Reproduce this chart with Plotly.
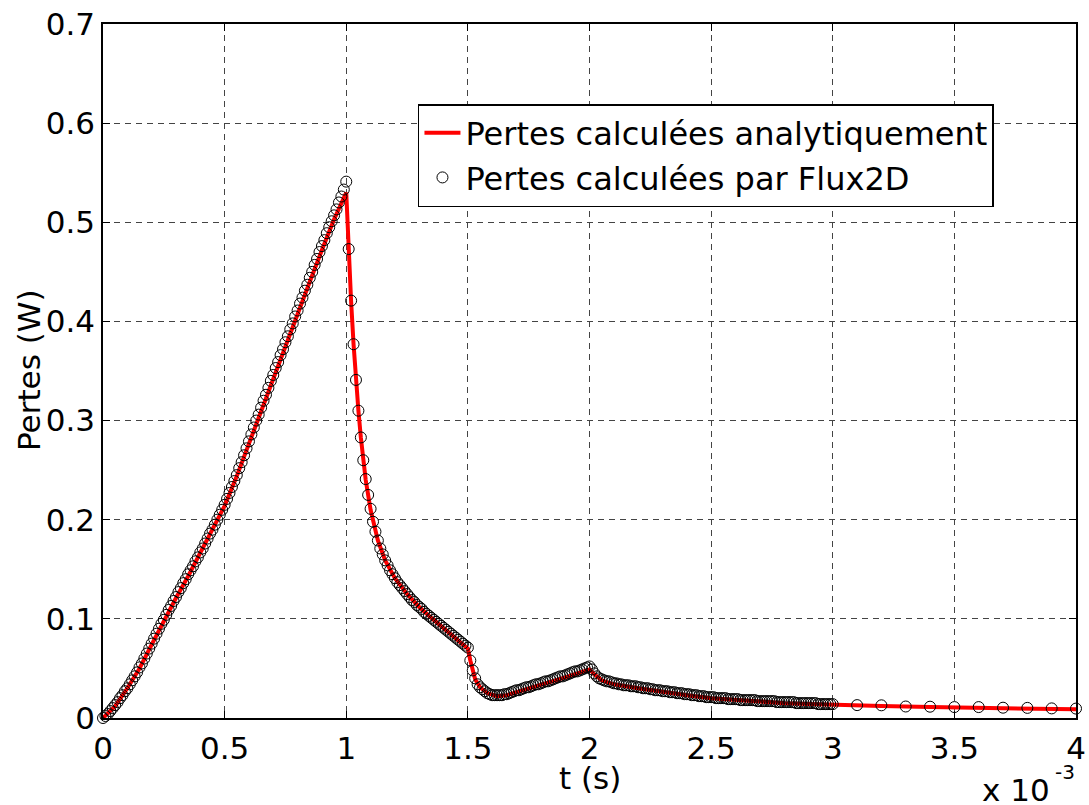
import plotly.graph_objects as go

# ---- Flux2D markers (t in ms, P in W) ----
flux_t = [
    0.00, 0.01, 0.02, 0.03, 0.04, 0.05, 0.06, 0.07, 0.08, 0.09,
    0.10, 0.11, 0.12, 0.13, 0.14, 0.15, 0.16, 0.17, 0.18, 0.19,
    0.20, 0.21, 0.22, 0.23, 0.24, 0.25, 0.26, 0.27, 0.28, 0.29,
    0.30, 0.31, 0.32, 0.33, 0.34, 0.35, 0.36, 0.37, 0.38, 0.39,
    0.40, 0.41, 0.42, 0.43, 0.44, 0.45, 0.46, 0.47, 0.48, 0.49,
    0.50, 0.51, 0.52, 0.53, 0.54, 0.55, 0.56, 0.57, 0.58, 0.59,
    0.60, 0.61, 0.62, 0.63, 0.64, 0.65, 0.66, 0.67, 0.68, 0.69,
    0.70, 0.71, 0.72, 0.73, 0.74, 0.75, 0.76, 0.77, 0.78, 0.79,
    0.80, 0.81, 0.82, 0.83, 0.84, 0.85, 0.86, 0.87, 0.88, 0.89,
    0.90, 0.91, 0.92, 0.93, 0.94, 0.95, 0.96, 0.97, 0.98, 0.99,
    1.00, 1.01, 1.02, 1.03, 1.04, 1.05, 1.06, 1.07, 1.08, 1.09,
    1.10, 1.11, 1.12, 1.13, 1.14, 1.15, 1.16, 1.17, 1.18, 1.19,
    1.20, 1.21, 1.22, 1.23, 1.24, 1.25, 1.26, 1.27, 1.28, 1.29,
    1.30, 1.31, 1.32, 1.33, 1.34, 1.35, 1.36, 1.37, 1.38, 1.39,
    1.40, 1.41, 1.42, 1.43, 1.44, 1.45, 1.46, 1.47, 1.48, 1.49,
    1.50, 1.51, 1.52, 1.53, 1.54, 1.55, 1.56, 1.57, 1.58, 1.59,
    1.60, 1.61, 1.62, 1.63, 1.64, 1.65, 1.66, 1.67, 1.68, 1.69,
    1.70, 1.71, 1.72, 1.73, 1.74, 1.75, 1.76, 1.77, 1.78, 1.79,
    1.80, 1.81, 1.82, 1.83, 1.84, 1.85, 1.86, 1.87, 1.88, 1.89,
    1.90, 1.91, 1.92, 1.93, 1.94, 1.95, 1.96, 1.97, 1.98, 1.99,
    2.00, 2.01, 2.02, 2.03, 2.04, 2.05, 2.06, 2.07, 2.08, 2.09,
    2.10, 2.11, 2.12, 2.13, 2.14, 2.15, 2.16, 2.17, 2.18, 2.19,
    2.20, 2.21, 2.22, 2.23, 2.24, 2.25, 2.26, 2.27, 2.28, 2.29,
    2.30, 2.31, 2.32, 2.33, 2.34, 2.35, 2.36, 2.37, 2.38, 2.39,
    2.40, 2.41, 2.42, 2.43, 2.44, 2.45, 2.46, 2.47, 2.48, 2.49,
    2.50, 2.51, 2.52, 2.53, 2.54, 2.55, 2.56, 2.57, 2.58, 2.59,
    2.60, 2.61, 2.62, 2.63, 2.64, 2.65, 2.66, 2.67, 2.68, 2.69,
    2.70, 2.71, 2.72, 2.73, 2.74, 2.75, 2.76, 2.77, 2.78, 2.79,
    2.80, 2.81, 2.82, 2.83, 2.84, 2.85, 2.86, 2.87, 2.88, 2.89,
    2.90, 2.91, 2.92, 2.93, 2.94, 2.95, 2.96, 2.97, 2.98, 2.99,
    3.00, 3.10, 3.20, 3.30, 3.40, 3.50, 3.60, 3.70, 3.80, 3.90,
    4.00,
]
flux_p = [
    0.000, 0.002, 0.004, 0.007, 0.010, 0.013, 0.016, 0.020, 0.023, 0.027,
    0.030, 0.034, 0.038, 0.042, 0.046, 0.051, 0.055, 0.060, 0.065, 0.070,
    0.075, 0.080, 0.085, 0.090, 0.095, 0.099, 0.104, 0.109, 0.113, 0.118,
    0.122, 0.127, 0.131, 0.136, 0.140, 0.145, 0.149, 0.153, 0.158, 0.162,
    0.167, 0.171, 0.176, 0.181, 0.186, 0.190, 0.195, 0.200, 0.205, 0.210,
    0.215, 0.221, 0.227, 0.233, 0.239, 0.245, 0.252, 0.258, 0.265, 0.272,
    0.279, 0.286, 0.293, 0.300, 0.306, 0.313, 0.320, 0.326, 0.333, 0.340,
    0.346, 0.353, 0.359, 0.366, 0.372, 0.379, 0.385, 0.392, 0.398, 0.405,
    0.411, 0.418, 0.424, 0.431, 0.437, 0.444, 0.450, 0.457, 0.463, 0.470,
    0.476, 0.482, 0.489, 0.495, 0.501, 0.507, 0.513, 0.520, 0.526, 0.533,
    0.541, 0.473, 0.421, 0.377, 0.341, 0.310, 0.283, 0.260, 0.241, 0.225,
    0.211, 0.198, 0.188, 0.179, 0.171, 0.165, 0.159, 0.154, 0.149, 0.145,
    0.141, 0.137, 0.134, 0.131, 0.128, 0.125, 0.122, 0.119, 0.117, 0.114,
    0.112, 0.110, 0.107, 0.105, 0.103, 0.101, 0.099, 0.097, 0.095, 0.093,
    0.091, 0.089, 0.087, 0.085, 0.083, 0.081, 0.079, 0.077, 0.075, 0.073,
    0.071, 0.058, 0.048, 0.040, 0.034, 0.031, 0.029, 0.027, 0.025, 0.024,
    0.023, 0.023, 0.023, 0.023, 0.023, 0.024, 0.024, 0.025, 0.026, 0.027,
    0.028, 0.028, 0.029, 0.030, 0.031, 0.031, 0.032, 0.033, 0.034, 0.034,
    0.035, 0.036, 0.037, 0.037, 0.038, 0.039, 0.040, 0.041, 0.042, 0.042,
    0.043, 0.044, 0.045, 0.046, 0.047, 0.047, 0.048, 0.049, 0.050, 0.051,
    0.052, 0.049, 0.045, 0.042, 0.040, 0.039, 0.038, 0.037, 0.037, 0.036,
    0.035, 0.035, 0.034, 0.034, 0.033, 0.033, 0.033, 0.032, 0.032, 0.032,
    0.031, 0.031, 0.030, 0.030, 0.030, 0.029, 0.029, 0.028, 0.028, 0.028,
    0.027, 0.027, 0.027, 0.026, 0.026, 0.026, 0.025, 0.025, 0.025, 0.024,
    0.024, 0.024, 0.023, 0.023, 0.023, 0.022, 0.022, 0.022, 0.021, 0.021,
    0.021, 0.021, 0.020, 0.020, 0.020, 0.020, 0.020, 0.019, 0.019, 0.019,
    0.019, 0.019, 0.018, 0.018, 0.018, 0.018, 0.018, 0.018, 0.018, 0.017,
    0.017, 0.017, 0.017, 0.017, 0.017, 0.017, 0.017, 0.016, 0.016, 0.016,
    0.016, 0.016, 0.016, 0.016, 0.016, 0.015, 0.015, 0.015, 0.015, 0.015,
    0.015, 0.015, 0.015, 0.015, 0.014, 0.014, 0.014, 0.014, 0.014, 0.014,
    0.014, 0.013, 0.0128, 0.0116, 0.0114, 0.011, 0.011, 0.0104, 0.0102, 0.0097,
    0.0095,
]

# ---- Analytical curve (t in ms, P in W) ----
ana_t = [
    0.00, 0.05, 0.10, 0.15, 0.20, 0.25, 0.30, 0.35, 0.40, 0.45,
    0.50, 0.55, 0.60, 0.65, 0.70, 0.75, 0.80, 0.85, 0.90, 0.95,
    1.00, 1.01, 1.02, 1.03, 1.04, 1.05, 1.06, 1.08, 1.10, 1.13,
    1.16, 1.20, 1.25, 1.30, 1.35, 1.40, 1.45, 1.50, 1.51, 1.52,
    1.53, 1.55, 1.58, 1.62, 1.66, 1.70, 1.80, 1.90, 2.00, 2.02,
    2.05, 2.10, 2.20, 2.30, 2.40, 2.50, 2.60, 2.70, 2.80, 2.90,
    3.00, 3.20, 3.40, 3.60, 3.80, 4.00,
]
ana_p = [
    0.000, 0.012, 0.030, 0.050, 0.074, 0.098, 0.121, 0.143, 0.166, 0.189,
    0.214, 0.244, 0.277, 0.310, 0.343, 0.376, 0.408, 0.440, 0.472, 0.503,
    0.530, 0.470, 0.420, 0.377, 0.340, 0.310, 0.283, 0.240, 0.210, 0.179,
    0.159, 0.141, 0.125, 0.112, 0.101, 0.091, 0.081, 0.070, 0.058, 0.047,
    0.039, 0.031, 0.025, 0.022, 0.023, 0.026, 0.033, 0.041, 0.049, 0.044,
    0.038, 0.034, 0.030, 0.026, 0.023, 0.020, 0.018, 0.0165, 0.015, 0.014,
    0.013, 0.012, 0.011, 0.010, 0.0093, 0.0088,
]

x_ticks = [0, 0.5, 1, 1.5, 2, 2.5, 3, 3.5, 4]
x_tick_text = ["0", "0.5", "1", "1.5", "2", "2.5", "3", "3.5", "4"]
y_ticks = [0, 0.1, 0.2, 0.3, 0.4, 0.5, 0.6, 0.7]
y_tick_text = ["0", "0.1", "0.2", "0.3", "0.4", "0.5", "0.6", "0.7"]

FONT = "DejaVu Sans"
FS = 31

fig = go.Figure()
fig.add_trace(go.Scatter(
    x=ana_t, y=ana_p, mode="lines",
    name="Pertes calculées analytiquement",
    line=dict(color="#ff0000", width=4),
    cliponaxis=False,
))
fig.add_trace(go.Scatter(
    x=flux_t, y=flux_p, mode="markers",
    name="Pertes calculées par Flux2D",
    marker=dict(symbol="circle-open", size=11, color="black",
                line=dict(color="black", width=1)),
    cliponaxis=False,
))

axis_common = dict(
    showline=True, linecolor="black", linewidth=1.5, mirror="ticks",
    ticks="inside", ticklen=7, tickcolor="black", tickwidth=1,
    showgrid=True, gridcolor="#444444", gridwidth=1, griddash="6px,5px",
    zeroline=False, automargin=False,
    tickfont=dict(family=FONT, size=FS, color="black"),
)

fig.update_xaxes(
    range=[0, 4], tickmode="array", tickvals=x_ticks, ticktext=x_tick_text,
    ticklabelstandoff=2,
    **axis_common,
)
fig.update_yaxes(
    range=[0, 0.7], tickmode="array", tickvals=y_ticks, ticktext=y_tick_text,
    ticklabelstandoff=0,
    **axis_common,
)

# axis titles
fig.add_annotation(
    xref="paper", yref="paper", x=0.5, y=0, xanchor="center", yanchor="middle",
    yshift=-60, text="t (s)", showarrow=False,
    font=dict(family=FONT, size=FS, color="black"),
)
fig.add_annotation(
    xref="paper", yref="paper", x=0, y=0.5, xanchor="center", yanchor="middle",
    xshift=-74, textangle=-90, text="Pertes (W)", showarrow=False,
    font=dict(family=FONT, size=FS, color="black"),
)
# exponent label "x 10^-3"
fig.add_annotation(
    xref="paper", yref="paper", x=1.0, y=0, xanchor="right", yanchor="middle",
    yshift=-72, xshift=-24,
    text="x 10", showarrow=False,
    font=dict(family=FONT, size=FS, color="black"),
)
fig.add_annotation(
    xref="paper", yref="paper", x=1.0, y=0, xanchor="right", yanchor="middle",
    yshift=-54, xshift=1,
    text="-3", showarrow=False,
    font=dict(family=FONT, size=20, color="black"),
)

fig.update_layout(
    width=1089, height=805,
    margin=dict(l=103, r=13, t=24, b=87),
    paper_bgcolor="white", plot_bgcolor="white",
    font=dict(family=FONT, color="black"),
    showlegend=True,
    legend=dict(
        x=0.3237, y=0.8847, xanchor="left", yanchor="top",
        bgcolor="white", bordercolor="black", borderwidth=1.5,
        font=dict(family=FONT, size=32, color="black"),
        itemwidth=36, tracegroupgap=0,
    ),
)

fig.write_html(
    "out.html",
    config={"displayModeBar": False},
    post_script="document.body.style.margin='0';document.body.style.overflow='hidden';",
)
